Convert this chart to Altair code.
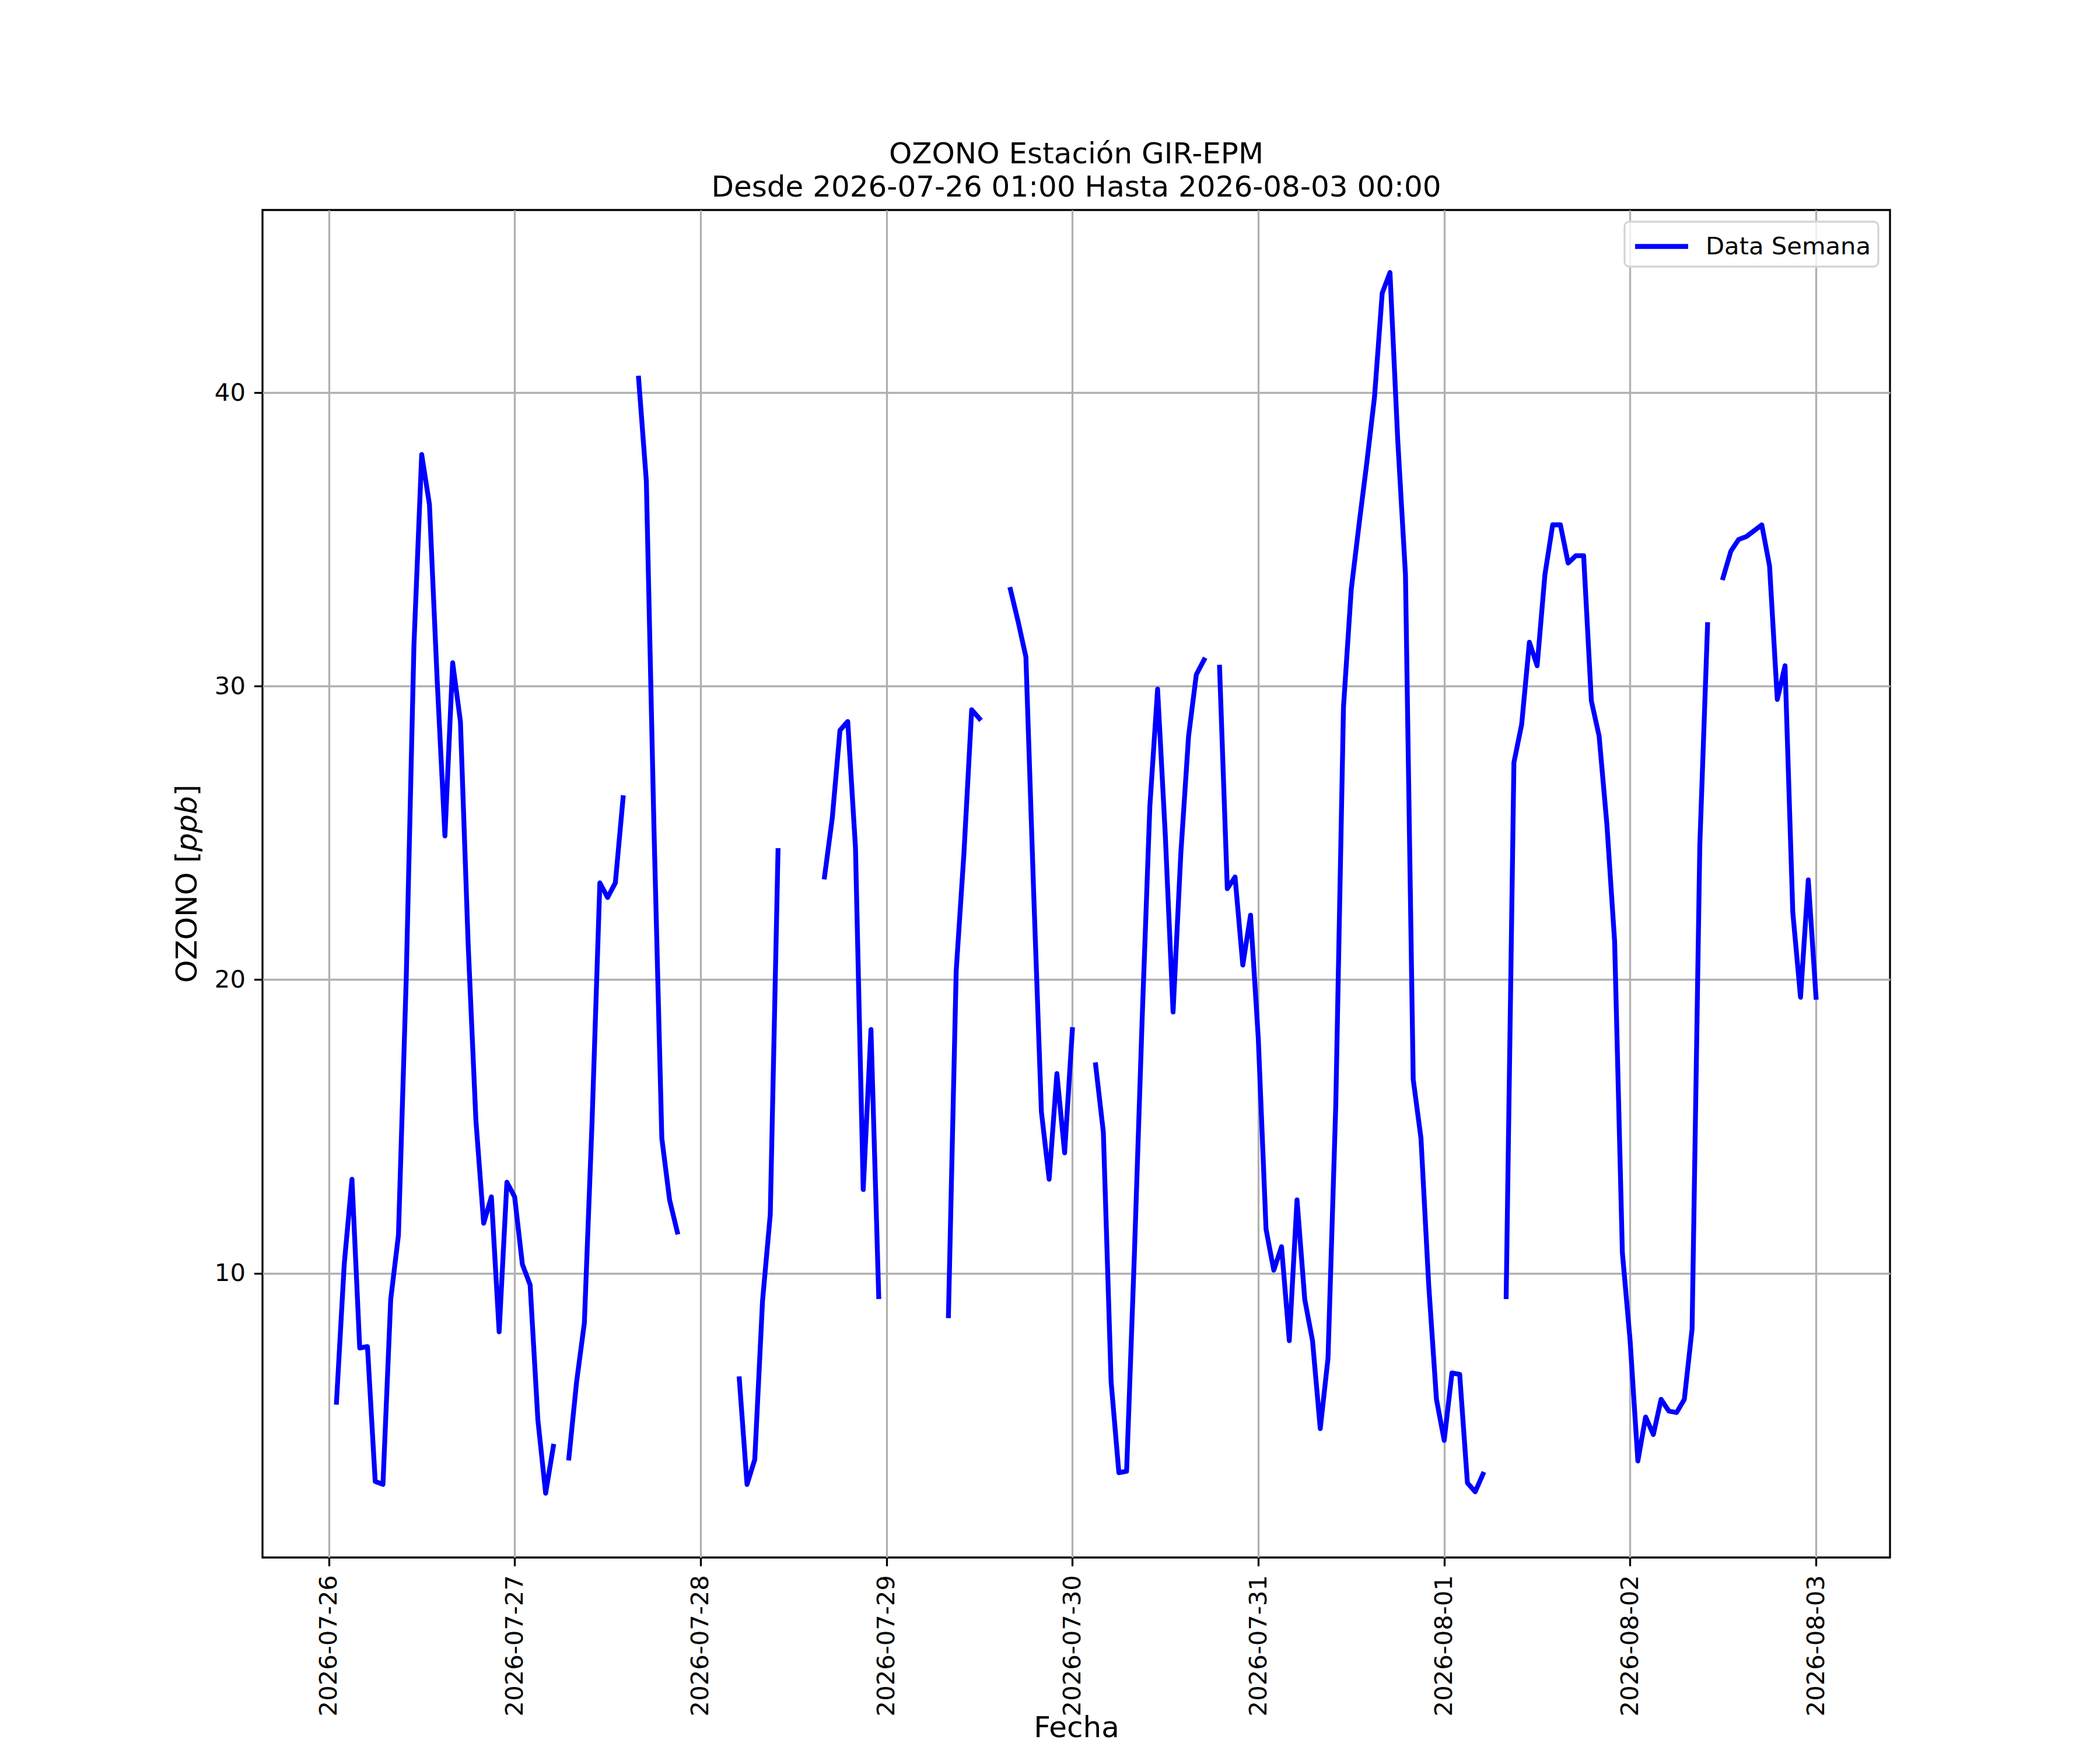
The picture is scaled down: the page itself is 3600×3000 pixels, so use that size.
import altair as alt
import pandas as pd

# ---------------- data (hourly; None = no data) ----------------
start = "2026-07-26 01:00"
d0726 = [5.6, 10.3, 13.2, 7.45, 7.5, 2.9, 2.8, 9.1, 11.3, 20.0, 31.4, 37.9,
         36.2, 30.2, 24.9, 30.8, 28.8, 21.2, 15.2, 11.7, 12.6, 8.0, 13.1]          # 01h..23h
d0727 = [12.6, 10.3, 9.6, 5.0, 2.5, 4.1, None, 3.7, 6.3, 8.3, 15.2, 23.3,
         22.8, 23.3, 26.2, None, 40.5, 37.0, 25.0, 14.6, 12.5, 11.4, None, None]
d0728 = [None, None, None, None, None, 6.4, 2.8, 3.65, 9.05, 12.0, 24.4, None,
         None, None, None, None, 23.5, 25.5, 28.5, 28.8, 24.5, 12.85, 18.3, 9.2]
d0729 = [None, None, None, None, None, None, None, None, 8.55, 20.3, 24.3, 29.2,
         28.9, None, None, None, 33.3, 32.2, 31.0, 23.0, 15.5, 13.2, 16.8, 14.1]
d0730 = [18.3, None, None, 17.1, 14.8, 6.3, 3.2, 3.25, 10.6, 18.6, 25.9, 29.9,
         24.9, 18.9, 24.3, 28.3, 30.4, 30.9, None, 30.65, 23.1, 23.5, 20.5, 22.2]
d0731 = [18.0, 11.5, 10.1, 10.9, 7.7, 12.5, 9.1, 7.7, 4.7, 7.1, 15.7, 29.3,
         33.3, 35.5, 37.6, 39.85, 43.4, 44.1, 38.4, 33.8, 16.6, 14.6, 9.6, 5.7]
d0801 = [4.3, 6.6, 6.55, 2.85, 2.55, 3.15, None, None, 9.2, 27.4, 28.7, 31.5,
         30.7, 33.8, 35.5, 35.5, 34.2, 34.45, 34.45, 29.5, 28.3, 25.3, 21.3, 10.7]
d0802 = [7.7, 3.6, 5.1, 4.5, 5.7, 5.3, 5.25, 5.7, 8.1, 24.6, 32.1, None,
         33.7, 34.6, 35.0, 35.1, 35.3, 35.5, 34.1, 29.55, 30.7, 22.3, 19.4, 23.4]
d0803 = [19.4]                                                                    # 00h

tick_days = ["2026-07-26", "2026-07-27", "2026-07-28", "2026-07-29", "2026-07-30",
             "2026-07-31", "2026-08-01", "2026-08-02", "2026-08-03"]
y_ticks = [10, 20, 30, 40]
serie = "Data Semana"
y_title_parts = ["OZONO [", "ppb", "]"]          # "ppb" is italic (math text) in the original

values = d0726 + d0727 + d0728 + d0729 + d0730 + d0731 + d0801 + d0802 + d0803
times = pd.date_range(start, periods=len(values), freq="h")

rows = []
seg = 0
prev_none = True
for t, v in zip(times, values):
    if v is None:
        prev_none = True
        continue
    if prev_none:
        seg += 1
        prev_none = False
    rows.append({"fecha": t.strftime("%Y-%m-%dT%H:%M:%S"), "ozono": v,
                 "seg": seg, "serie": serie})
df = pd.DataFrame(rows)


def dt(s, h=0, m=0):
    y, mo, d = (int(p) for p in s.split("-"))
    return alt.DateTime(year=y, month=mo, date=d, hours=h, minutes=m)


FONT = "DejaVu Sans"
W, H = 2790, 2310
TITLE_FS = 50

line = (
    alt.Chart(df)
    .mark_line(strokeWidth=8.3, strokeCap="square", strokeJoin="round")
    .encode(
        x=alt.X(
            "fecha:T",
            title="Fecha",
            scale=alt.Scale(domain=[dt("2026-07-25", 15, 27), dt("2026-08-03", 9, 33)], nice=False),
            axis=alt.Axis(values=[dt(s) for s in tick_days], format="%Y-%m-%d",
                          labelAngle=270, labelPadding=15,
                          labelOverlap=False, labelLimit=2000,
                          titleBaseline="alphabetic", titleY=307),
        ),
        y=alt.Y(
            "ozono:Q",
            title=None,
            scale=alt.Scale(domain=[0.31, 46.23], nice=False, zero=False),
            axis=alt.Axis(values=y_ticks, labelPadding=15),
        ),
        color=alt.Color(
            "serie:N",
            scale=alt.Scale(domain=[serie], range=["#0000ff"]),
            legend=alt.Legend(title=None, orient="top-right", offset=20,
                              symbolType="M-1.75,0H1.75", symbolSize=2704,
                              symbolStrokeWidth=8.5, labelFontSize=41.7,
                              labelFont=FONT, labelColor="black", labelOffset=45,
                              labelLimit=2000,
                              padding=12, symbolOffset=21,
                              fillColor="rgba(255,255,255,0.8)",
                              strokeColor="#d5d5d5", cornerRadius=8),
        ),
        detail="seg:N",
    )
)

# y-axis title built from three text pieces (upright / italic / upright), rotated like the original
em = TITLE_FS
w_part1 = 4.502 * em      # advance width of "OZONO [" in DejaVu Sans
w_part2 = 1.905 * em      # advance width of "ppb" in DejaVu Sans Oblique
w_part3 = 0.390 * em
total = w_part1 + w_part2 + w_part3
y_start = H / 2 + total / 2
x_base = -113
ttl_data = alt.Data(values=[{"k": 0}])
ytitle = []
offs = [0, w_part1, w_part1 + w_part2]
styles = ["normal", "italic", "normal"]
for txt, off, st in zip(y_title_parts, offs, styles):
    ytitle.append(
        alt.Chart(ttl_data)
        .mark_text(text=txt, angle=270, align="left", baseline="alphabetic",
                   font=FONT, fontSize=TITLE_FS, fontStyle=st, color="black")
        .encode(x=alt.value(x_base), y=alt.value(y_start - off))
    )

chart = (
    alt.layer(line, *ytitle)
    .properties(
        width=W,
        height=H,
        autosize=alt.AutoSizeParams(type="none"),
        padding={"left": 442, "top": 352, "right": 352, "bottom": 322},
        title=alt.TitleParams(
            text=["OZONO Estación GIR-EPM", "Desde 2026-07-26 01:00 Hasta 2026-08-03 00:00"],
            fontSize=TITLE_FS, font=FONT, fontWeight="normal", color="black",
            anchor="middle", lineHeight=57, offset=13,
        ),
    )
    .configure_view(stroke="black", strokeWidth=3.3)
    .configure_axis(
        domain=False, grid=True, gridColor="#b0b0b0", gridWidth=3.3,
        tickColor="black", tickSize=14.6, tickWidth=3.3,
        labelFont=FONT, labelFontSize=41.7, labelColor="black",
        titleFont=FONT, titleFontSize=TITLE_FS, titleFontWeight="normal", titleColor="black",
    )
    .configure_legend(strokeWidth=3.3)
)

chart.save("out.html", embed_options={"renderer": "svg", "actions": False})
